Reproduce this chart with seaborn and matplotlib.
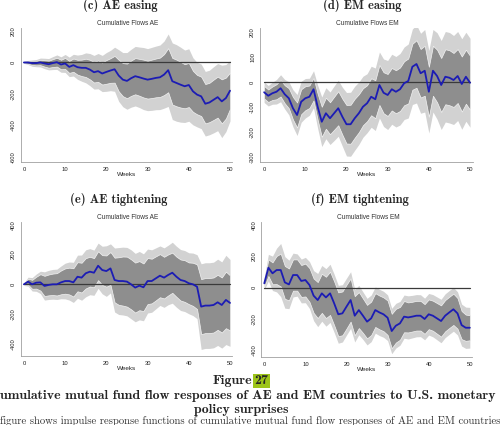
import numpy as np
import pandas as pd
import matplotlib
matplotlib.use("Agg")
import matplotlib.pyplot as plt
import seaborn as sns

weeks = list(range(51))

# ---- (c) AE easing ----
c_irf = [0, 0, -4, -4, 0, -6, -11, -4, 2, -13, -6, -28, -17, -30, -34, -34, -45, -62, -55, -70,
         -60, -51, -43, -83, -109, -117, -100, -87, -94, -102, -109, -104, -98, -94, -77, -49, -119,
         -130, -141, -151, -143, -183, -204, -215, -262, -254, -237, -220, -247, -226, -179]
c_in = [3, 8, 12, 14, 17, 20, 22, 25, 28, 30, 35, 38, 42, 47, 52, 58, 62, 65, 68, 70,
        75, 78, 85, 100, 105, 110, 112, 115, 117, 120, 120, 122, 123, 125, 130, 140, 148,
        148, 145, 140, 140, 130, 125, 125, 125, 125, 128, 130, 140, 130, 115]
c_out = [5, 13, 20, 23, 28, 33, 36, 41, 46, 49, 57, 62, 69, 77, 85, 95, 102, 107, 112, 115,
         123, 128, 140, 164, 172, 180, 184, 189, 192, 197, 197, 200, 202, 205, 213, 230, 243,
         243, 238, 230, 230, 213, 205, 205, 205, 205, 210, 213, 230, 213, 192]

# ---- (d) EM easing ----
d_irf = [-41, -55, -45, -39, -25, -49, -65, -105, -132, -79, -65, -59, -29, -99, -159, -125, -145,
         -125, -105, -139, -169, -169, -145, -125, -99, -85, -59, -69, -12, -43, -52, -29, -39,
         -29, -5, 4, 61, 72, 35, 45, -39, 45, 24, -12, 21, 17, 8, 24, -8, 21, -3]
d_in = [25, 25, 27, 30, 33, 36, 40, 45, 50, 50, 48, 45, 45, 52, 60, 62, 64, 66, 68, 72,
        77, 78, 78, 76, 74, 72, 74, 76, 80, 82, 84, 85, 86, 87, 88, 90, 92, 95, 97, 100,
        100, 100, 105, 108, 110, 110, 108, 108, 110, 108, 108]
d_out = [41, 41, 44, 49, 54, 59, 66, 74, 82, 82, 79, 74, 74, 86, 99, 102, 105, 109, 112, 118,
         127, 128, 128, 125, 122, 118, 122, 125, 132, 135, 138, 140, 141, 143, 145, 148, 151,
         156, 160, 165, 165, 165, 173, 178, 181, 181, 178, 178, 181, 178, 178]

# ---- (e) AE tightening ----
e_irf = [0, 18, 0, 11, 13, -11, -4, 0, 0, 13, 22, 22, 13, 51, 45, 74, 85, 78, 125, 96,
         89, 107, 29, 22, 22, 18, 0, -22, -9, -20, 22, 22, 40, 58, 45, 63, 78, 51, 29, 22,
         7, 0, -16, -150, -143, -143, -139, -121, -139, -105, -125]
e_in = [5, 20, 30, 40, 55, 68, 70, 72, 75, 80, 85, 90, 95, 98, 100, 102, 100, 98, 97, 100,
        105, 110, 150, 160, 165, 168, 168, 168, 165, 160, 155, 150, 148, 145, 140, 138, 135,
        135, 138, 140, 140, 145, 150, 185, 185, 185, 185, 185, 185, 190, 185]
e_out = [8, 30, 45, 58, 75, 95, 98, 100, 102, 110, 120, 128, 135, 145, 152, 158, 155, 152, 152,
         160, 170, 165, 215, 225, 228, 230, 232, 230, 230, 225, 215, 210, 205, 200, 200, 200,
         205, 205, 205, 205, 205, 210, 215, 288, 288, 288, 288, 290, 290, 300, 292]

# ---- (f) EM tightening ----
f_irf = [28, 128, 92, 113, 113, 34, 21, 81, 81, 43, 49, 17, -51, -79, -36, -62, -36, -100, -170,
         -164, -121, -79, -179, -143, -179, -217, -196, -143, -158, -170, -192, -277, -243, -228,
         -185, -190, -185, -179, -179, -200, -170, -179, -196, -213, -179, -158, -138, -164,
         -239, -256, -256]
f_in = [20, 53, 70, 90, 105, 105, 102, 100, 100, 102, 105, 108, 110, 115, 125, 132, 138, 140,
        140, 140, 140, 138, 125, 115, 110, 107, 107, 108, 108, 108, 110, 110, 108, 105, 100, 96,
        95, 95, 95, 95, 95, 96, 98, 100, 100, 100, 100, 98, 90, 84, 80]
f_out = [40, 85, 110, 140, 170, 165, 155, 140, 135, 140, 145, 150, 160, 170, 178, 184, 186, 186,
         185, 183, 182, 181, 168, 158, 152, 149, 149, 148, 148, 147, 146, 145, 143, 140, 138, 138,
         136, 135, 134, 133, 133, 135, 137, 139, 140, 140, 140, 138, 134, 132, 130]

panel_titles = ["(c) AE easing", "(d) EM easing", "(e) AE tightening", "(f) EM tightening"]
sub_titles = ["Cumulative Flows AE", "Cumulative Flows EM", "Cumulative Flows AE", "Cumulative Flows EM"]
c_yticks = [200, 0, -200, -400, -600]
d_yticks = [200, 100, 0, -100, -200, -300]
e_yticks = [400, 200, 0, -200, -400]
f_yticks = [400, 200, 0, -200, -400]
xticks = [0, 10, 20, 30, 40, 50]

sns.set_style("white")
plt.rcParams["font.family"] = ["Liberation Sans", "DejaVu Sans"]

W, H = 500, 425
fig = plt.figure(figsize=(W / 100, H / 100), dpi=100)


def fx(px):
    return px / W


def fy(py):
    return 1 - py / H


# (left px, right px, top px, bottom px, xlim, ylim)
layout = [
    (21, 232.5, 28, 162, (-0.7, 50.6), (-632, 219)),
    (260, 472.5, 28, 162, (-1.0, 50.6), (-320, 216)),
    (21, 232.5, 222, 355.7, (-0.7, 50.6), (-480, 419)),
    (261.4, 472.3, 221.7, 357.3, (-0.7, 50.6), (-445, 422)),
]
series = [(c_irf, c_in, c_out, c_yticks), (d_irf, d_in, d_out, d_yticks),
          (e_irf, e_in, e_out, e_yticks), (f_irf, f_in, f_out, f_yticks)]

LIGHT = "#d2d2d2"
DARK = "#8e8e8e"
BLUE = "#1c1cb4"
AXC = "#a0a0a0"

for i, ((l, r, t, b, xl, yl), (irf, hin, hout, yt)) in enumerate(zip(layout, series)):
    ax = fig.add_axes([fx(l), fy(b), fx(r - l), (b - t) / H])
    df = pd.DataFrame({"week": weeks, "irf": irf, "hin": hin, "hout": hout})
    ax.fill_between(df["week"], df["irf"] - df["hout"], df["irf"] + df["hout"],
                    color=LIGHT, lw=0, zorder=1)
    ax.fill_between(df["week"], df["irf"] - df["hin"], df["irf"] + df["hin"],
                    facecolor=DARK, edgecolor="#f2f2f2", lw=0.5, zorder=2)
    ax.plot([0, 50], [0, 0], color="#3a3a3a", lw=0.9, zorder=3)
    sns.lineplot(data=df, x="week", y="irf", ax=ax, color=BLUE, lw=1.3, zorder=4)
    ax.set_xlim(*xl)
    ax.set_ylim(*yl)
    ax.set_xticks(xticks)
    ax.set_yticks(yt)
    ax.set_yticklabels([str(v) for v in yt], rotation=90, va="center")
    ax.tick_params(axis="both", length=2, width=0.5, color=AXC, pad=1.5,
                   labelsize=4.2, labelcolor="#222222")
    for s in ["top", "right"]:
        ax.spines[s].set_visible(False)
    for s in ["left", "bottom"]:
        ax.spines[s].set_color(AXC)
        ax.spines[s].set_linewidth(0.6)
    ax.set_xlabel("Weeks", fontsize=4.6, labelpad=0, color="#222222")
    ax.set_ylabel("")
    ax.set_facecolor("white")
    cx = (l + r) / 2 + 1
    fig.text(fx(cx), fy(t - 4.5), sub_titles[i], fontsize=4.7, ha="center", va="center",
             color="#333333")

# panel captions
PT = 9.0
fig.text(fx(120), fy(5), panel_titles[0], family="cmb10", fontsize=PT, ha="center", va="center")
fig.text(fx(362), fy(5), panel_titles[1], family="cmb10", fontsize=PT, ha="center", va="center")
fig.text(fx(119), fy(199.5), panel_titles[2], family="cmb10", fontsize=PT, ha="center", va="center")
fig.text(fx(360), fy(199.5), panel_titles[3], family="cmb10", fontsize=PT, ha="center", va="center")

# figure caption
CS = 10.0
fig.text(fx(252), fy(381), "Figure", family="cmb10", fontsize=CS, ha="right", va="center")
fig.text(fx(254.5), fy(381), "27", family="cmb10", fontsize=CS, ha="left", va="center",
         bbox=dict(boxstyle="square,pad=0.08", facecolor="#9dc41a", edgecolor="none"))
line2 = fig.text(fx(0.5), fy(396.5),
                 "umulative mutual fund flow responses of AE and EM countries to U.S. monetary",
                 family="cmb10", fontsize=CS, ha="left", va="center")
fig.text(fx(241.5), fy(409.5), "policy surprises", family="cmb10", fontsize=CS, ha="center", va="center")
line4 = fig.text(fx(0), fy(420.5),
                 "figure shows impulse response functions of cumulative mutual fund flow responses of AE and EM countries",
                 family="cmr10", fontsize=7.0, ha="left", va="center", color="#333333")

# fit caption line widths to the reference extents
fig.canvas.draw()
r = fig.canvas.get_renderer()
w2 = line2.get_window_extent(r).width
line2.set_fontsize(CS * 496.0 / w2)
w4 = line4.get_window_extent(r).width
line4.set_fontsize(7.0 * 499.0 / w4)

fig.savefig("out.png", dpi=100, facecolor="white")
